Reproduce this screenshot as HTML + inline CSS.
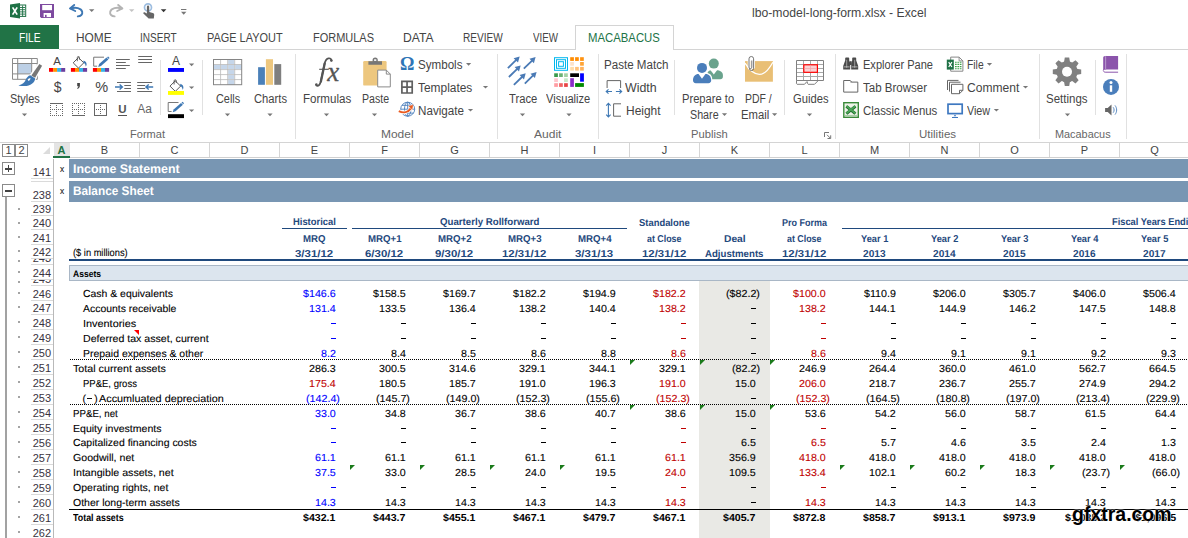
<!DOCTYPE html><html><head><meta charset="utf-8"><title>Excel</title><style>
*{box-sizing:border-box;margin:0;padding:0}
html,body{width:1188px;height:538px;overflow:hidden;background:#fff}
body{font-family:"Liberation Sans",sans-serif;position:relative;color:#444}
.abs{position:absolute}
.t{position:absolute;white-space:nowrap;line-height:1}
.g{text-rendering:geometricPrecision}
.s{-webkit-text-stroke:.1px currentColor}
.tab{position:absolute;top:31px;font-size:11.2px;color:#444;white-space:nowrap;line-height:14px}
.rl{position:absolute;font-size:12px;color:#444;white-space:nowrap;line-height:14px;text-align:center}
.gl{position:absolute;font-size:11px;color:#666;white-space:nowrap;line-height:12px;top:128px;letter-spacing:.2px}
.sep{position:absolute;width:1px;background:#e1e1e1}
.dd{position:absolute;width:0;height:0;border-left:2.8px solid transparent;border-right:2.8px solid transparent;border-top:2.9px solid #6e6e6e}
.ch{position:absolute;top:143px;height:14px;font-size:11px;line-height:14px;color:#444;text-align:center;border-right:1px solid #d6d6d6}
.rh{position:absolute;left:30px;width:21px;font-size:11px;line-height:11px;color:#3a3340;text-align:right;white-space:nowrap}
.rsep{position:absolute;left:31px;width:22px;height:1px;background:#dadada}
.dot{position:absolute;left:18px;width:2px;height:2px;background:#a4a4a4}
.c{position:absolute;font-size:10.4px;line-height:12px;white-space:nowrap;color:#000}
.n{position:absolute;font-size:10.4px;line-height:12px;white-space:nowrap;text-align:right;color:#000}
.hb{position:absolute;font-size:9.6px;font-weight:bold;line-height:12px;white-space:nowrap;text-align:center;color:#1f497d}
.b{font-weight:bold}
.bl{color:#0000ff}.rd{color:#c00000}
.gt{position:absolute;width:0;height:0;border-top:5px solid #1a7a1a;border-right:5px solid transparent}
</style></head><body>
<div class="t" style="left:752.0px;top:6.34px;font-size:12px;line-height:14px;color:#444;transform:scaleX(1.0175);transform-origin:0 0">lbo-model-long-form.xlsx - Excel</div>
<div class="abs" style="left:0;top:25px;width:59px;height:24px;background:#217346"></div>
<div class="t" style="left:18.57px;top:30.64px;font-size:12.3px;line-height:14px;color:#fff;transform:scaleX(0.8318);transform-origin:0 0">FILE</div>
<div class="t" style="left:75.63px;top:30.64px;font-size:12.3px;line-height:14px;color:#444;transform:scaleX(0.9667);transform-origin:0 0">HOME</div>
<div class="t" style="left:139.78px;top:30.64px;font-size:12.3px;line-height:14px;color:#444;transform:scaleX(0.8161);transform-origin:0 0">INSERT</div>
<div class="t" style="left:206.81px;top:30.64px;font-size:12.3px;line-height:14px;color:#444;transform:scaleX(0.8893);transform-origin:0 0">PAGE LAYOUT</div>
<div class="t" style="left:312.91px;top:30.64px;font-size:12.3px;line-height:14px;color:#444;transform:scaleX(0.8924);transform-origin:0 0">FORMULAS</div>
<div class="t" style="left:402.62px;top:30.64px;font-size:12.3px;line-height:14px;color:#444;transform:scaleX(0.9848);transform-origin:0 0">DATA</div>
<div class="t" style="left:462.68px;top:30.64px;font-size:12.3px;line-height:14px;color:#444;transform:scaleX(0.8225);transform-origin:0 0">REVIEW</div>
<div class="t" style="left:533.2px;top:30.64px;font-size:12.3px;line-height:14px;color:#444;transform:scaleX(0.7951);transform-origin:0 0">VIEW</div>
<div class="abs" style="left:59px;top:49px;width:1129px;height:1px;background:#d4d4d4"></div>
<div class="abs" style="left:575px;top:25px;width:99px;height:25px;background:#fff;border:1px solid #d4d4d4;border-bottom:none"></div>
<div class="t" style="left:587.88px;top:30.64px;font-size:12.3px;line-height:14px;color:#217346;transform:scaleX(0.9219);transform-origin:0 0">MACABACUS</div>
<div class="abs" style="left:0;top:142px;width:1188px;height:1px;background:#d4d4d4"></div>
<div class="sep" style="left:295px;top:54px;height:85px"></div>
<div class="sep" style="left:497px;top:54px;height:85px"></div>
<div class="sep" style="left:598px;top:54px;height:85px"></div>
<div class="sep" style="left:835px;top:54px;height:85px"></div>
<div class="sep" style="left:1039px;top:54px;height:85px"></div>
<div class="sep" style="left:1126px;top:54px;height:85px"></div>
<div class="sep" style="left:160px;top:60px;height:55px"></div>
<div class="sep" style="left:202px;top:60px;height:55px"></div>
<div class="sep" style="left:674px;top:60px;height:55px"></div>
<div class="sep" style="left:784px;top:60px;height:55px"></div>
<div class="sep" style="left:1095px;top:60px;height:55px"></div>
<div class="t" style="left:129.6px;top:126.79px;font-size:11px;line-height:14px;color:#666;transform:scaleX(1.0034);transform-origin:0 0">Format</div>
<div class="t" style="left:380.7px;top:126.79px;font-size:11px;line-height:14px;color:#666;transform:scaleX(1.0875);transform-origin:0 0">Model</div>
<div class="t" style="left:534.2px;top:126.79px;font-size:11px;line-height:14px;color:#666;transform:scaleX(1.0953);transform-origin:0 0">Audit</div>
<div class="t" style="left:690.7px;top:126.79px;font-size:11px;line-height:14px;color:#666;transform:scaleX(1.0178);transform-origin:0 0">Publish</div>
<div class="t" style="left:918.8px;top:126.79px;font-size:11px;line-height:14px;color:#666;transform:scaleX(1.0459);transform-origin:0 0">Utilities</div>
<div class="t" style="left:1054.5px;top:126.79px;font-size:11px;line-height:14px;color:#666;transform:scaleX(0.9885);transform-origin:0 0">Macabacus</div>
<div class="t" style="left:10.2px;top:92.04px;font-size:12px;line-height:14px;color:#444;transform:scaleX(0.9089);transform-origin:0 0">Styles</div>
<div class="t" style="left:215.7px;top:92.04px;font-size:12px;line-height:14px;color:#444;transform:scaleX(0.9073);transform-origin:0 0">Cells</div>
<div class="t" style="left:253.8px;top:92.04px;font-size:12px;line-height:14px;color:#444;transform:scaleX(0.9337);transform-origin:0 0">Charts</div>
<div class="t" style="left:302.6px;top:92.04px;font-size:12px;line-height:14px;color:#444;transform:scaleX(0.9638);transform-origin:0 0">Formulas</div>
<div class="t" style="left:361.8px;top:92.04px;font-size:12px;line-height:14px;color:#444;transform:scaleX(0.8835);transform-origin:0 0">Paste</div>
<div class="t" style="left:508.5px;top:92.04px;font-size:12px;line-height:14px;color:#444;transform:scaleX(0.936);transform-origin:0 0">Trace</div>
<div class="t" style="left:546.2px;top:92.04px;font-size:12px;line-height:14px;color:#444;transform:scaleX(0.9266);transform-origin:0 0">Visualize</div>
<div class="t" style="left:792.5px;top:92.04px;font-size:12px;line-height:14px;color:#444;transform:scaleX(0.9337);transform-origin:0 0">Guides</div>
<div class="t" style="left:1046.3px;top:92.04px;font-size:12px;line-height:14px;color:#444;transform:scaleX(0.9594);transform-origin:0 0">Settings</div>
<div class="t" style="left:681.8px;top:92.04px;font-size:12px;line-height:14px;color:#444;transform:scaleX(0.9297);transform-origin:0 0">Prepare to</div>
<div class="t" style="left:690.4px;top:107.64px;font-size:12px;line-height:14px;color:#444;transform:scaleX(0.8934);transform-origin:0 0">Share</div>
<div class="t" style="left:744.7px;top:92.04px;font-size:12px;line-height:14px;color:#444;transform:scaleX(0.8713);transform-origin:0 0">PDF /</div>
<div class="t" style="left:740.8px;top:107.64px;font-size:12px;line-height:14px;color:#444;transform:scaleX(0.9407);transform-origin:0 0">Email</div>
<div class="t" style="left:418.2px;top:57.74px;font-size:12px;line-height:14px;color:#444;transform:scaleX(0.9671);transform-origin:0 0">Symbols</div>
<div class="t" style="left:418.4px;top:81.14px;font-size:12px;line-height:14px;color:#444;transform:scaleX(0.9928);transform-origin:0 0">Templates</div>
<div class="t" style="left:418.4px;top:104.14px;font-size:12px;line-height:14px;color:#444;transform:scaleX(0.9709);transform-origin:0 0">Navigate</div>
<div class="t" style="left:603.5px;top:57.74px;font-size:12px;line-height:14px;color:#444;transform:scaleX(0.9663);transform-origin:0 0">Paste Match</div>
<div class="t" style="left:625.2px;top:81.14px;font-size:12px;line-height:14px;color:#444;transform:scaleX(1.0333);transform-origin:0 0">Width</div>
<div class="t" style="left:625.6px;top:104.14px;font-size:12px;line-height:14px;color:#444;transform:scaleX(0.9957);transform-origin:0 0">Height</div>
<div class="t" style="left:862.7px;top:57.74px;font-size:12px;line-height:14px;color:#444;transform:scaleX(0.9205);transform-origin:0 0">Explorer Pane</div>
<div class="t" style="left:862.7px;top:81.14px;font-size:12px;line-height:14px;color:#444;transform:scaleX(0.9611);transform-origin:0 0">Tab Browser</div>
<div class="t" style="left:862.7px;top:104.14px;font-size:12px;line-height:14px;color:#444;transform:scaleX(0.9523);transform-origin:0 0">Classic Menus</div>
<div class="t" style="left:966.7px;top:57.74px;font-size:12px;line-height:14px;color:#444;transform:scaleX(0.8595);transform-origin:0 0">File</div>
<div class="t" style="left:966.7px;top:81.14px;font-size:12px;line-height:14px;color:#444;transform:scaleX(1.0061);transform-origin:0 0">Comment</div>
<div class="t" style="left:966.7px;top:104.14px;font-size:12px;line-height:14px;color:#444;transform:scaleX(0.8956);transform-origin:0 0">View</div>
<div class="abs" style="left:2px;top:144px;width:13px;height:13px;border:1px solid #8a8a8a;font-size:11px;line-height:11px;text-align:center;color:#444">1</div>
<div class="abs" style="left:15px;top:144px;width:13px;height:13px;border:1px solid #8a8a8a;font-size:11px;line-height:11px;text-align:center;color:#444">2</div>
<div class="abs" style="left:43px;top:147px;width:0;height:0;border-bottom:7px solid #dcdcdc;border-left:7px solid transparent"></div>
<div class="abs" style="left:54px;top:143px;width:16px;height:13px;background:#e4e4e4"></div>
<div class="abs" style="left:53px;top:156px;width:17px;height:2px;background:#217346"></div>
<div class="ch" style="left:54px;width:15px;color:#217346;font-weight:bold;border:none">A</div>
<div class="ch" style="left:70px;width:70px">B</div>
<div class="ch" style="left:140px;width:70px">C</div>
<div class="ch" style="left:210px;width:70px">D</div>
<div class="ch" style="left:280px;width:70px">E</div>
<div class="ch" style="left:350px;width:70px">F</div>
<div class="ch" style="left:420px;width:70px">G</div>
<div class="ch" style="left:490px;width:70px">H</div>
<div class="ch" style="left:560px;width:70px">I</div>
<div class="ch" style="left:630px;width:70px">J</div>
<div class="ch" style="left:700px;width:70px">K</div>
<div class="ch" style="left:770px;width:70px">L</div>
<div class="ch" style="left:840px;width:70px">M</div>
<div class="ch" style="left:910px;width:70px">N</div>
<div class="ch" style="left:980px;width:70px">O</div>
<div class="ch" style="left:1050px;width:70px">P</div>
<div class="ch" style="left:1120px;width:70px">Q</div>
<div class="abs" style="left:70px;top:157px;width:1118px;height:1px;background:#d0d0d0"></div>
<div class="abs" style="left:53px;top:159px;width:1px;height:379px;background:#b9b9b9"></div>
<div class="abs" style="left:2px;top:162px;width:13px;height:13px;border:1px solid #8a8a8a;background:#fff"></div>
<div class="abs" style="left:5px;top:168px;width:7px;height:1.6px;background:#444"></div><div class="abs" style="left:7.7px;top:165px;width:1.6px;height:7px;background:#444"></div>
<div class="abs" style="left:2px;top:184px;width:13px;height:13px;border:1px solid #8a8a8a;background:#fff"></div>
<div class="abs" style="left:5px;top:190px;width:7px;height:1.6px;background:#444"></div>
<div class="abs" style="left:5px;top:197px;width:2px;height:341px;background:#a2a2a2"></div>
<div class="rh" style="top:166.5px">141</div>
<div class="rsep" style="top:177.5px"></div>
<div class="rh" style="top:190.0px">238</div>
<div class="rsep" style="top:201.0px"></div>
<div class="rh" style="top:204.1px">239</div>
<div class="rsep" style="top:215.1px"></div>
<div class="dot" style="top:208px"></div>
<div class="rh" style="top:218.3px">240</div>
<div class="rsep" style="top:229.3px"></div>
<div class="dot" style="top:222px"></div>
<div class="rh" style="top:232.7px">241</div>
<div class="rsep" style="top:243.7px"></div>
<div class="dot" style="top:236px"></div>
<div class="rh" style="top:247.0px">242</div>
<div class="rsep" style="top:258.0px"></div>
<div class="dot" style="top:250px"></div>
<div class="abs" style="left:30px;top:258.5px;width:23px;height:5.0px;overflow:hidden"><div class="rh" style="left:0;top:-6px">243</div></div>
<div class="rsep" style="top:264.0px"></div>
<div class="dot" style="top:260px"></div>
<div class="rh" style="top:268.0px">244</div>
<div class="rsep" style="top:279.0px"></div>
<div class="dot" style="top:271px"></div>
<div class="abs" style="left:30px;top:279.5px;width:23px;height:4.5px;overflow:hidden"><div class="rh" style="left:0;top:-6px">245</div></div>
<div class="rsep" style="top:284.5px"></div>
<div class="dot" style="top:281px"></div>
<div class="rh" style="top:288.5px">246</div>
<div class="rsep" style="top:299.5px"></div>
<div class="dot" style="top:292px"></div>
<div class="rh" style="top:303.45px">247</div>
<div class="rsep" style="top:314.45px"></div>
<div class="dot" style="top:306px"></div>
<div class="rh" style="top:318.4px">248</div>
<div class="rsep" style="top:329.4px"></div>
<div class="dot" style="top:321px"></div>
<div class="rh" style="top:333.34999999999997px">249</div>
<div class="rsep" style="top:344.34999999999997px"></div>
<div class="dot" style="top:336px"></div>
<div class="rh" style="top:348.29999999999995px">250</div>
<div class="rsep" style="top:359.29999999999995px"></div>
<div class="dot" style="top:351px"></div>
<div class="rh" style="top:363.24999999999994px">251</div>
<div class="rsep" style="top:374.24999999999994px"></div>
<div class="dot" style="top:366px"></div>
<div class="rh" style="top:378.19999999999993px">252</div>
<div class="rsep" style="top:389.19999999999993px"></div>
<div class="dot" style="top:381px"></div>
<div class="rh" style="top:393.1499999999999px">253</div>
<div class="rsep" style="top:404.1499999999999px"></div>
<div class="dot" style="top:396px"></div>
<div class="rh" style="top:408.0999999999999px">254</div>
<div class="rsep" style="top:419.0999999999999px"></div>
<div class="dot" style="top:411px"></div>
<div class="rh" style="top:423.0499999999999px">255</div>
<div class="rsep" style="top:434.0499999999999px"></div>
<div class="dot" style="top:426px"></div>
<div class="rh" style="top:437.9999999999999px">256</div>
<div class="rsep" style="top:448.9999999999999px"></div>
<div class="dot" style="top:441px"></div>
<div class="rh" style="top:452.9499999999999px">257</div>
<div class="rsep" style="top:463.9499999999999px"></div>
<div class="dot" style="top:456px"></div>
<div class="rh" style="top:467.89999999999986px">258</div>
<div class="rsep" style="top:478.89999999999986px"></div>
<div class="dot" style="top:471px"></div>
<div class="rh" style="top:482.84999999999985px">259</div>
<div class="rsep" style="top:493.84999999999985px"></div>
<div class="dot" style="top:486px"></div>
<div class="rh" style="top:497.79999999999984px">260</div>
<div class="rsep" style="top:508.79999999999984px"></div>
<div class="dot" style="top:501px"></div>
<div class="rh" style="top:512.7499999999998px">261</div>
<div class="rsep" style="top:523.7499999999998px"></div>
<div class="dot" style="top:516px"></div>
<div class="rh" style="top:527.6999999999998px">262</div>
<div class="rsep" style="top:538.6999999999998px"></div>
<div class="dot" style="top:531px"></div>
<div class="rsep" style="top:180.5px"></div>
<div class="abs" style="left:69px;top:159.4px;width:1119px;height:18.2px;background:#7896b3"></div>
<div class="abs" style="left:69px;top:181.2px;width:1119px;height:20.4px;background:#7896b3"></div>
<div class="t g" style="left:73.20px;top:163.20px;font-size:12.5px;line-height:12px;font-weight:bold;color:#fff;transform:scaleX(0.9908);transform-origin:0 0;">Income Statement</div>
<div class="t g" style="left:73.20px;top:185.20px;font-size:12.5px;line-height:12px;font-weight:bold;color:#fff;transform:scaleX(0.9445);transform-origin:0 0;">Balance Sheet</div>
<div class="t g s" style="left:60.00px;top:163.00px;font-size:9.2px;line-height:12px;color:#111;transform:scaleX(0.9000);transform-origin:0 0;">x</div>
<div class="t g s" style="left:60.00px;top:185.00px;font-size:9.2px;line-height:12px;color:#111;transform:scaleX(0.9000);transform-origin:0 0;">x</div>
<div class="abs" style="left:699px;top:281px;width:71px;height:257px;background:#e9e9e5"></div>
<div class="abs" style="left:69px;top:265px;width:1119px;height:16px;background:#dce5ee;border-top:1px solid #a9b7c6;border-bottom:1px solid #a9b7c6;border-left:1px solid #a9b7c6"></div>
<div class="t g" style="left:72.80px;top:268.20px;font-size:9.4px;line-height:12px;font-weight:bold;color:#000;transform:scaleX(0.9105);transform-origin:0 0;">Assets</div>
<div class="abs" style="left:69px;top:259px;width:1119px;height:2px;background:#1f497d"></div>
<div class="t g s" style="left:73.00px;top:247.80px;font-size:10.2px;line-height:12px;color:#000;transform:scaleX(0.9109);transform-origin:0 0;">($ in millions)</div>
<div class="t g" style="left:293.00px;top:216.70px;font-size:10.0px;line-height:12px;font-weight:bold;color:#1f497d;transform:scaleX(0.9390);transform-origin:0 0;">Historical</div>
<div class="t g" style="left:439.90px;top:216.70px;font-size:10.0px;line-height:12px;font-weight:bold;color:#1f497d;transform:scaleX(0.9680);transform-origin:0 0;">Quarterly Rollforward</div>
<div class="t g" style="left:638.95px;top:218.40px;font-size:10.0px;line-height:12px;font-weight:bold;color:#1f497d;transform:scaleX(0.9405);transform-origin:0 0;">Standalone</div>
<div class="t g" style="left:781.80px;top:218.40px;font-size:10.0px;line-height:12px;font-weight:bold;color:#1f497d;transform:scaleX(0.8999);transform-origin:0 0;">Pro Forma</div>
<div class="t g" style="left:1112.40px;top:216.70px;font-size:10.0px;line-height:12px;font-weight:bold;color:#1f497d;transform:scaleX(0.9300);transform-origin:0 0;">Fiscal Years Ending</div>
<div class="abs" style="left:282px;top:228.3px;width:65px;height:1.2px;background:#1f497d"></div>
<div class="abs" style="left:352px;top:228.3px;width:275px;height:1.2px;background:#1f497d"></div>
<div class="abs" style="left:842px;top:228.3px;width:346px;height:1.2px;background:#1f497d"></div>
<div class="t g" style="left:303.15px;top:234.10px;font-size:10.0px;line-height:12px;font-weight:bold;color:#1f497d;transform:scaleX(0.9638);transform-origin:0 0;">MRQ</div>
<div class="t g" style="left:295.15px;top:249.10px;font-size:10.0px;line-height:12px;font-weight:bold;color:#1f497d;transform:scaleX(1.1449);transform-origin:0 0;">3/31/12</div>
<div class="t g" style="left:367.50px;top:234.10px;font-size:10.0px;line-height:12px;font-weight:bold;color:#1f497d;transform:scaleX(0.9667);transform-origin:0 0;">MRQ+1</div>
<div class="t g" style="left:365.15px;top:249.10px;font-size:10.0px;line-height:12px;font-weight:bold;color:#1f497d;transform:scaleX(1.1449);transform-origin:0 0;">6/30/12</div>
<div class="t g" style="left:437.50px;top:234.10px;font-size:10.0px;line-height:12px;font-weight:bold;color:#1f497d;transform:scaleX(0.9667);transform-origin:0 0;">MRQ+2</div>
<div class="t g" style="left:435.15px;top:249.10px;font-size:10.0px;line-height:12px;font-weight:bold;color:#1f497d;transform:scaleX(1.1449);transform-origin:0 0;">9/30/12</div>
<div class="t g" style="left:507.50px;top:234.10px;font-size:10.0px;line-height:12px;font-weight:bold;color:#1f497d;transform:scaleX(0.9667);transform-origin:0 0;">MRQ+3</div>
<div class="t g" style="left:502.10px;top:249.10px;font-size:10.0px;line-height:12px;font-weight:bold;color:#1f497d;transform:scaleX(1.1381);transform-origin:0 0;">12/31/12</div>
<div class="t g" style="left:577.50px;top:234.10px;font-size:10.0px;line-height:12px;font-weight:bold;color:#1f497d;transform:scaleX(0.9667);transform-origin:0 0;">MRQ+4</div>
<div class="t g" style="left:575.15px;top:249.10px;font-size:10.0px;line-height:12px;font-weight:bold;color:#1f497d;transform:scaleX(1.1449);transform-origin:0 0;">3/31/13</div>
<div class="t g" style="left:647.10px;top:234.10px;font-size:10.0px;line-height:12px;font-weight:bold;color:#1f497d;transform:scaleX(0.8846);transform-origin:0 0;">at Close</div>
<div class="t g" style="left:642.10px;top:249.10px;font-size:10.0px;line-height:12px;font-weight:bold;color:#1f497d;transform:scaleX(1.1381);transform-origin:0 0;">12/31/12</div>
<div class="t g" style="left:723.55px;top:234.10px;font-size:10.0px;line-height:12px;font-weight:bold;color:#1f497d;transform:scaleX(1.0260);transform-origin:0 0;">Deal</div>
<div class="t g" style="left:705.05px;top:249.10px;font-size:10.0px;line-height:12px;font-weight:bold;color:#1f497d;transform:scaleX(0.9656);transform-origin:0 0;">Adjustments</div>
<div class="t g" style="left:787.10px;top:234.10px;font-size:10.0px;line-height:12px;font-weight:bold;color:#1f497d;transform:scaleX(0.8846);transform-origin:0 0;">at Close</div>
<div class="t g" style="left:782.10px;top:249.10px;font-size:10.0px;line-height:12px;font-weight:bold;color:#1f497d;transform:scaleX(1.1381);transform-origin:0 0;">12/31/12</div>
<div class="t g" style="left:860.65px;top:234.10px;font-size:10.0px;line-height:12px;font-weight:bold;color:#1f497d;transform:scaleX(0.9261);transform-origin:0 0;">Year 1</div>
<div class="t g" style="left:863.00px;top:249.10px;font-size:10.0px;line-height:12px;font-weight:bold;color:#1f497d;transform:scaleX(1.0139);transform-origin:0 0;">2013</div>
<div class="t g" style="left:930.65px;top:234.10px;font-size:10.0px;line-height:12px;font-weight:bold;color:#1f497d;transform:scaleX(0.9261);transform-origin:0 0;">Year 2</div>
<div class="t g" style="left:933.00px;top:249.10px;font-size:10.0px;line-height:12px;font-weight:bold;color:#1f497d;transform:scaleX(1.0139);transform-origin:0 0;">2014</div>
<div class="t g" style="left:1000.65px;top:234.10px;font-size:10.0px;line-height:12px;font-weight:bold;color:#1f497d;transform:scaleX(0.9261);transform-origin:0 0;">Year 3</div>
<div class="t g" style="left:1003.00px;top:249.10px;font-size:10.0px;line-height:12px;font-weight:bold;color:#1f497d;transform:scaleX(1.0139);transform-origin:0 0;">2015</div>
<div class="t g" style="left:1070.65px;top:234.10px;font-size:10.0px;line-height:12px;font-weight:bold;color:#1f497d;transform:scaleX(0.9261);transform-origin:0 0;">Year 4</div>
<div class="t g" style="left:1073.00px;top:249.10px;font-size:10.0px;line-height:12px;font-weight:bold;color:#1f497d;transform:scaleX(1.0139);transform-origin:0 0;">2016</div>
<div class="t g" style="left:1140.65px;top:234.10px;font-size:10.0px;line-height:12px;font-weight:bold;color:#1f497d;transform:scaleX(0.9261);transform-origin:0 0;">Year 5</div>
<div class="t g" style="left:1143.00px;top:249.10px;font-size:10.0px;line-height:12px;font-weight:bold;color:#1f497d;transform:scaleX(1.0139);transform-origin:0 0;">2017</div>
<div class="t g s" style="left:82.60px;top:288.95px;font-size:10.2px;line-height:12px;color:#000;transform:scaleX(1.0241);transform-origin:0 0;">Cash &amp; equivalents</div>
<div class="t g s" style="left:303.13px;top:288.95px;font-size:10.2px;line-height:12px;color:#0000ff;transform:scaleX(1.0502);transform-origin:0 0;">$146.6</div>
<div class="t g s" style="left:373.13px;top:288.95px;font-size:10.2px;line-height:12px;color:#000;transform:scaleX(1.0502);transform-origin:0 0;">$158.5</div>
<div class="t g s" style="left:443.13px;top:288.95px;font-size:10.2px;line-height:12px;color:#000;transform:scaleX(1.0502);transform-origin:0 0;">$169.7</div>
<div class="t g s" style="left:513.13px;top:288.95px;font-size:10.2px;line-height:12px;color:#000;transform:scaleX(1.0502);transform-origin:0 0;">$182.2</div>
<div class="t g s" style="left:583.13px;top:288.95px;font-size:10.2px;line-height:12px;color:#000;transform:scaleX(1.0502);transform-origin:0 0;">$194.9</div>
<div class="t g s" style="left:653.13px;top:288.95px;font-size:10.2px;line-height:12px;color:#c00000;transform:scaleX(1.0502);transform-origin:0 0;">$182.2</div>
<div class="t g s" style="left:726.01px;top:288.95px;font-size:10.2px;line-height:12px;color:#000;transform:scaleX(1.0502);transform-origin:0 0;">($82.2)</div>
<div class="t g s" style="left:793.13px;top:288.95px;font-size:10.2px;line-height:12px;color:#c00000;transform:scaleX(1.0502);transform-origin:0 0;">$100.0</div>
<div class="t g s" style="left:863.92px;top:288.95px;font-size:10.2px;line-height:12px;color:#000;transform:scaleX(1.0502);transform-origin:0 0;">$110.9</div>
<div class="t g s" style="left:933.13px;top:288.95px;font-size:10.2px;line-height:12px;color:#000;transform:scaleX(1.0502);transform-origin:0 0;">$206.0</div>
<div class="t g s" style="left:1003.13px;top:288.95px;font-size:10.2px;line-height:12px;color:#000;transform:scaleX(1.0502);transform-origin:0 0;">$305.7</div>
<div class="t g s" style="left:1073.13px;top:288.95px;font-size:10.2px;line-height:12px;color:#000;transform:scaleX(1.0502);transform-origin:0 0;">$406.0</div>
<div class="t g s" style="left:1143.13px;top:288.95px;font-size:10.2px;line-height:12px;color:#000;transform:scaleX(1.0502);transform-origin:0 0;">$506.4</div>
<div class="t g s" style="left:82.60px;top:303.90px;font-size:10.2px;line-height:12px;color:#000;transform:scaleX(1.0240);transform-origin:0 0;">Accounts receivable</div>
<div class="t g s" style="left:309.08px;top:303.90px;font-size:10.2px;line-height:12px;color:#0000ff;transform:scaleX(1.0502);transform-origin:0 0;">131.4</div>
<div class="t g s" style="left:379.08px;top:303.90px;font-size:10.2px;line-height:12px;color:#000;transform:scaleX(1.0502);transform-origin:0 0;">133.5</div>
<div class="t g s" style="left:449.08px;top:303.90px;font-size:10.2px;line-height:12px;color:#000;transform:scaleX(1.0502);transform-origin:0 0;">136.4</div>
<div class="t g s" style="left:519.08px;top:303.90px;font-size:10.2px;line-height:12px;color:#000;transform:scaleX(1.0502);transform-origin:0 0;">138.2</div>
<div class="t g s" style="left:589.08px;top:303.90px;font-size:10.2px;line-height:12px;color:#000;transform:scaleX(1.0502);transform-origin:0 0;">140.4</div>
<div class="t g s" style="left:659.08px;top:303.90px;font-size:10.2px;line-height:12px;color:#c00000;transform:scaleX(1.0502);transform-origin:0 0;">138.2</div>
<div class="abs" style="left:751.2px;top:308px;width:5.2px;height:1px;background:#000"></div>
<div class="t g s" style="left:799.08px;top:303.90px;font-size:10.2px;line-height:12px;color:#c00000;transform:scaleX(1.0502);transform-origin:0 0;">138.2</div>
<div class="t g s" style="left:869.08px;top:303.90px;font-size:10.2px;line-height:12px;color:#000;transform:scaleX(1.0502);transform-origin:0 0;">144.1</div>
<div class="t g s" style="left:939.08px;top:303.90px;font-size:10.2px;line-height:12px;color:#000;transform:scaleX(1.0502);transform-origin:0 0;">144.9</div>
<div class="t g s" style="left:1009.08px;top:303.90px;font-size:10.2px;line-height:12px;color:#000;transform:scaleX(1.0502);transform-origin:0 0;">146.2</div>
<div class="t g s" style="left:1079.08px;top:303.90px;font-size:10.2px;line-height:12px;color:#000;transform:scaleX(1.0502);transform-origin:0 0;">147.5</div>
<div class="t g s" style="left:1149.08px;top:303.90px;font-size:10.2px;line-height:12px;color:#000;transform:scaleX(1.0502);transform-origin:0 0;">148.8</div>
<div class="t g s" style="left:82.60px;top:318.85px;font-size:10.2px;line-height:12px;color:#000;transform:scaleX(1.0676);transform-origin:0 0;">Inventories</div>
<div class="abs" style="left:331.2px;top:323px;width:5.2px;height:1px;background:#0000ff"></div>
<div class="abs" style="left:401.2px;top:323px;width:5.2px;height:1px;background:#000"></div>
<div class="abs" style="left:471.2px;top:323px;width:5.2px;height:1px;background:#000"></div>
<div class="abs" style="left:541.2px;top:323px;width:5.2px;height:1px;background:#000"></div>
<div class="abs" style="left:611.2px;top:323px;width:5.2px;height:1px;background:#000"></div>
<div class="abs" style="left:681.2px;top:323px;width:5.2px;height:1px;background:#c00000"></div>
<div class="abs" style="left:751.2px;top:323px;width:5.2px;height:1px;background:#000"></div>
<div class="abs" style="left:821.2px;top:323px;width:5.2px;height:1px;background:#c00000"></div>
<div class="abs" style="left:891.2px;top:323px;width:5.2px;height:1px;background:#000"></div>
<div class="abs" style="left:961.2px;top:323px;width:5.2px;height:1px;background:#000"></div>
<div class="abs" style="left:1031.2px;top:323px;width:5.2px;height:1px;background:#000"></div>
<div class="abs" style="left:1101.2px;top:323px;width:5.2px;height:1px;background:#000"></div>
<div class="abs" style="left:1171.2px;top:323px;width:5.2px;height:1px;background:#000"></div>
<div class="t g s" style="left:82.60px;top:333.80px;font-size:10.2px;line-height:12px;color:#000;transform:scaleX(1.0416);transform-origin:0 0;">Deferred tax asset, current</div>
<div class="abs" style="left:331.2px;top:338px;width:5.2px;height:1px;background:#0000ff"></div>
<div class="abs" style="left:401.2px;top:338px;width:5.2px;height:1px;background:#000"></div>
<div class="abs" style="left:471.2px;top:338px;width:5.2px;height:1px;background:#000"></div>
<div class="abs" style="left:541.2px;top:338px;width:5.2px;height:1px;background:#000"></div>
<div class="abs" style="left:611.2px;top:338px;width:5.2px;height:1px;background:#000"></div>
<div class="abs" style="left:681.2px;top:338px;width:5.2px;height:1px;background:#c00000"></div>
<div class="abs" style="left:751.2px;top:338px;width:5.2px;height:1px;background:#000"></div>
<div class="abs" style="left:821.2px;top:338px;width:5.2px;height:1px;background:#c00000"></div>
<div class="abs" style="left:891.2px;top:338px;width:5.2px;height:1px;background:#000"></div>
<div class="abs" style="left:961.2px;top:338px;width:5.2px;height:1px;background:#000"></div>
<div class="abs" style="left:1031.2px;top:338px;width:5.2px;height:1px;background:#000"></div>
<div class="abs" style="left:1101.2px;top:338px;width:5.2px;height:1px;background:#000"></div>
<div class="abs" style="left:1171.2px;top:338px;width:5.2px;height:1px;background:#000"></div>
<div class="t g s" style="left:82.60px;top:348.75px;font-size:10.2px;line-height:12px;color:#000;transform:scaleX(1.0251);transform-origin:0 0;">Prepaid expenses &amp; other</div>
<div class="t g s" style="left:320.98px;top:348.75px;font-size:10.2px;line-height:12px;color:#0000ff;transform:scaleX(1.0502);transform-origin:0 0;">8.2</div>
<div class="t g s" style="left:390.98px;top:348.75px;font-size:10.2px;line-height:12px;color:#000;transform:scaleX(1.0502);transform-origin:0 0;">8.4</div>
<div class="t g s" style="left:460.98px;top:348.75px;font-size:10.2px;line-height:12px;color:#000;transform:scaleX(1.0502);transform-origin:0 0;">8.5</div>
<div class="t g s" style="left:530.98px;top:348.75px;font-size:10.2px;line-height:12px;color:#000;transform:scaleX(1.0502);transform-origin:0 0;">8.6</div>
<div class="t g s" style="left:600.98px;top:348.75px;font-size:10.2px;line-height:12px;color:#000;transform:scaleX(1.0502);transform-origin:0 0;">8.8</div>
<div class="t g s" style="left:670.98px;top:348.75px;font-size:10.2px;line-height:12px;color:#c00000;transform:scaleX(1.0502);transform-origin:0 0;">8.6</div>
<div class="abs" style="left:751.2px;top:353px;width:5.2px;height:1px;background:#000"></div>
<div class="t g s" style="left:810.98px;top:348.75px;font-size:10.2px;line-height:12px;color:#c00000;transform:scaleX(1.0502);transform-origin:0 0;">8.6</div>
<div class="t g s" style="left:880.98px;top:348.75px;font-size:10.2px;line-height:12px;color:#000;transform:scaleX(1.0502);transform-origin:0 0;">9.4</div>
<div class="t g s" style="left:950.98px;top:348.75px;font-size:10.2px;line-height:12px;color:#000;transform:scaleX(1.0502);transform-origin:0 0;">9.1</div>
<div class="t g s" style="left:1020.98px;top:348.75px;font-size:10.2px;line-height:12px;color:#000;transform:scaleX(1.0502);transform-origin:0 0;">9.1</div>
<div class="t g s" style="left:1090.98px;top:348.75px;font-size:10.2px;line-height:12px;color:#000;transform:scaleX(1.0502);transform-origin:0 0;">9.2</div>
<div class="t g s" style="left:1160.98px;top:348.75px;font-size:10.2px;line-height:12px;color:#000;transform:scaleX(1.0502);transform-origin:0 0;">9.3</div>
<div class="t g s" style="left:72.90px;top:363.70px;font-size:10.2px;line-height:12px;color:#000;transform:scaleX(1.0517);transform-origin:0 0;">Total current assets</div>
<div class="t g s" style="left:309.08px;top:363.70px;font-size:10.2px;line-height:12px;color:#000;transform:scaleX(1.0502);transform-origin:0 0;">286.3</div>
<div class="t g s" style="left:379.08px;top:363.70px;font-size:10.2px;line-height:12px;color:#000;transform:scaleX(1.0502);transform-origin:0 0;">300.5</div>
<div class="t g s" style="left:449.08px;top:363.70px;font-size:10.2px;line-height:12px;color:#000;transform:scaleX(1.0502);transform-origin:0 0;">314.6</div>
<div class="t g s" style="left:519.08px;top:363.70px;font-size:10.2px;line-height:12px;color:#000;transform:scaleX(1.0502);transform-origin:0 0;">329.1</div>
<div class="t g s" style="left:589.08px;top:363.70px;font-size:10.2px;line-height:12px;color:#000;transform:scaleX(1.0502);transform-origin:0 0;">344.1</div>
<div class="t g s" style="left:659.08px;top:363.70px;font-size:10.2px;line-height:12px;color:#000;transform:scaleX(1.0502);transform-origin:0 0;">329.1</div>
<div class="t g s" style="left:731.96px;top:363.70px;font-size:10.2px;line-height:12px;color:#000;transform:scaleX(1.0502);transform-origin:0 0;">(82.2)</div>
<div class="t g s" style="left:799.08px;top:363.70px;font-size:10.2px;line-height:12px;color:#000;transform:scaleX(1.0502);transform-origin:0 0;">246.9</div>
<div class="t g s" style="left:869.08px;top:363.70px;font-size:10.2px;line-height:12px;color:#000;transform:scaleX(1.0502);transform-origin:0 0;">264.4</div>
<div class="t g s" style="left:939.08px;top:363.70px;font-size:10.2px;line-height:12px;color:#000;transform:scaleX(1.0502);transform-origin:0 0;">360.0</div>
<div class="t g s" style="left:1009.08px;top:363.70px;font-size:10.2px;line-height:12px;color:#000;transform:scaleX(1.0502);transform-origin:0 0;">461.0</div>
<div class="t g s" style="left:1079.08px;top:363.70px;font-size:10.2px;line-height:12px;color:#000;transform:scaleX(1.0502);transform-origin:0 0;">562.7</div>
<div class="t g s" style="left:1149.08px;top:363.70px;font-size:10.2px;line-height:12px;color:#000;transform:scaleX(1.0502);transform-origin:0 0;">664.5</div>
<div class="t g s" style="left:82.60px;top:378.65px;font-size:10.2px;line-height:12px;color:#000;transform:scaleX(0.9331);transform-origin:0 0;">PP&amp;E, gross</div>
<div class="t g s" style="left:309.08px;top:378.65px;font-size:10.2px;line-height:12px;color:#c00000;transform:scaleX(1.0502);transform-origin:0 0;">175.4</div>
<div class="t g s" style="left:379.08px;top:378.65px;font-size:10.2px;line-height:12px;color:#000;transform:scaleX(1.0502);transform-origin:0 0;">180.5</div>
<div class="t g s" style="left:449.08px;top:378.65px;font-size:10.2px;line-height:12px;color:#000;transform:scaleX(1.0502);transform-origin:0 0;">185.7</div>
<div class="t g s" style="left:519.08px;top:378.65px;font-size:10.2px;line-height:12px;color:#000;transform:scaleX(1.0502);transform-origin:0 0;">191.0</div>
<div class="t g s" style="left:589.08px;top:378.65px;font-size:10.2px;line-height:12px;color:#000;transform:scaleX(1.0502);transform-origin:0 0;">196.3</div>
<div class="t g s" style="left:659.08px;top:378.65px;font-size:10.2px;line-height:12px;color:#c00000;transform:scaleX(1.0502);transform-origin:0 0;">191.0</div>
<div class="t g s" style="left:735.03px;top:378.65px;font-size:10.2px;line-height:12px;color:#000;transform:scaleX(1.0502);transform-origin:0 0;">15.0</div>
<div class="t g s" style="left:799.08px;top:378.65px;font-size:10.2px;line-height:12px;color:#c00000;transform:scaleX(1.0502);transform-origin:0 0;">206.0</div>
<div class="t g s" style="left:869.08px;top:378.65px;font-size:10.2px;line-height:12px;color:#000;transform:scaleX(1.0502);transform-origin:0 0;">218.7</div>
<div class="t g s" style="left:939.08px;top:378.65px;font-size:10.2px;line-height:12px;color:#000;transform:scaleX(1.0502);transform-origin:0 0;">236.7</div>
<div class="t g s" style="left:1009.08px;top:378.65px;font-size:10.2px;line-height:12px;color:#000;transform:scaleX(1.0502);transform-origin:0 0;">255.7</div>
<div class="t g s" style="left:1079.08px;top:378.65px;font-size:10.2px;line-height:12px;color:#000;transform:scaleX(1.0502);transform-origin:0 0;">274.9</div>
<div class="t g s" style="left:1149.08px;top:378.65px;font-size:10.2px;line-height:12px;color:#000;transform:scaleX(1.0502);transform-origin:0 0;">294.2</div>
<div class="t g s" style="left:82.40px;top:393.60px;font-size:10.2px;line-height:12px;color:#000;transform:scaleX(1.0000);transform-origin:0 0;">(</div>
<div class="t g s" style="left:94.20px;top:393.60px;font-size:10.2px;line-height:12px;color:#000;transform:scaleX(1.0000);transform-origin:0 0;">)</div>
<div class="abs" style="left:86.6px;top:398px;width:5.4px;height:1px;background:#111"></div>
<div class="t g s" style="left:99.20px;top:393.60px;font-size:10.2px;line-height:12px;color:#000;transform:scaleX(1.0638);transform-origin:0 0;">Accumluated depreciation</div>
<div class="t g s" style="left:306.01px;top:393.60px;font-size:10.2px;line-height:12px;color:#0000ff;transform:scaleX(1.0502);transform-origin:0 0;">(142.4)</div>
<div class="t g s" style="left:376.01px;top:393.60px;font-size:10.2px;line-height:12px;color:#000;transform:scaleX(1.0502);transform-origin:0 0;">(145.7)</div>
<div class="t g s" style="left:446.01px;top:393.60px;font-size:10.2px;line-height:12px;color:#000;transform:scaleX(1.0502);transform-origin:0 0;">(149.0)</div>
<div class="t g s" style="left:516.01px;top:393.60px;font-size:10.2px;line-height:12px;color:#000;transform:scaleX(1.0502);transform-origin:0 0;">(152.3)</div>
<div class="t g s" style="left:586.01px;top:393.60px;font-size:10.2px;line-height:12px;color:#000;transform:scaleX(1.0502);transform-origin:0 0;">(155.6)</div>
<div class="t g s" style="left:656.01px;top:393.60px;font-size:10.2px;line-height:12px;color:#c00000;transform:scaleX(1.0502);transform-origin:0 0;">(152.3)</div>
<div class="abs" style="left:751.2px;top:398px;width:5.2px;height:1px;background:#000"></div>
<div class="t g s" style="left:796.01px;top:393.60px;font-size:10.2px;line-height:12px;color:#c00000;transform:scaleX(1.0502);transform-origin:0 0;">(152.3)</div>
<div class="t g s" style="left:866.01px;top:393.60px;font-size:10.2px;line-height:12px;color:#000;transform:scaleX(1.0502);transform-origin:0 0;">(164.5)</div>
<div class="t g s" style="left:936.01px;top:393.60px;font-size:10.2px;line-height:12px;color:#000;transform:scaleX(1.0502);transform-origin:0 0;">(180.8)</div>
<div class="t g s" style="left:1006.01px;top:393.60px;font-size:10.2px;line-height:12px;color:#000;transform:scaleX(1.0502);transform-origin:0 0;">(197.0)</div>
<div class="t g s" style="left:1076.01px;top:393.60px;font-size:10.2px;line-height:12px;color:#000;transform:scaleX(1.0502);transform-origin:0 0;">(213.4)</div>
<div class="t g s" style="left:1146.01px;top:393.60px;font-size:10.2px;line-height:12px;color:#000;transform:scaleX(1.0502);transform-origin:0 0;">(229.9)</div>
<div class="t g s" style="left:72.90px;top:408.55px;font-size:10.2px;line-height:12px;color:#000;transform:scaleX(0.9518);transform-origin:0 0;">PP&amp;E, net</div>
<div class="t g s" style="left:315.03px;top:408.55px;font-size:10.2px;line-height:12px;color:#0000ff;transform:scaleX(1.0502);transform-origin:0 0;">33.0</div>
<div class="t g s" style="left:385.03px;top:408.55px;font-size:10.2px;line-height:12px;color:#000;transform:scaleX(1.0502);transform-origin:0 0;">34.8</div>
<div class="t g s" style="left:455.03px;top:408.55px;font-size:10.2px;line-height:12px;color:#000;transform:scaleX(1.0502);transform-origin:0 0;">36.7</div>
<div class="t g s" style="left:525.03px;top:408.55px;font-size:10.2px;line-height:12px;color:#000;transform:scaleX(1.0502);transform-origin:0 0;">38.6</div>
<div class="t g s" style="left:595.03px;top:408.55px;font-size:10.2px;line-height:12px;color:#000;transform:scaleX(1.0502);transform-origin:0 0;">40.7</div>
<div class="t g s" style="left:665.03px;top:408.55px;font-size:10.2px;line-height:12px;color:#000;transform:scaleX(1.0502);transform-origin:0 0;">38.6</div>
<div class="t g s" style="left:735.03px;top:408.55px;font-size:10.2px;line-height:12px;color:#000;transform:scaleX(1.0502);transform-origin:0 0;">15.0</div>
<div class="t g s" style="left:805.03px;top:408.55px;font-size:10.2px;line-height:12px;color:#000;transform:scaleX(1.0502);transform-origin:0 0;">53.6</div>
<div class="t g s" style="left:875.03px;top:408.55px;font-size:10.2px;line-height:12px;color:#000;transform:scaleX(1.0502);transform-origin:0 0;">54.2</div>
<div class="t g s" style="left:945.03px;top:408.55px;font-size:10.2px;line-height:12px;color:#000;transform:scaleX(1.0502);transform-origin:0 0;">56.0</div>
<div class="t g s" style="left:1015.03px;top:408.55px;font-size:10.2px;line-height:12px;color:#000;transform:scaleX(1.0502);transform-origin:0 0;">58.7</div>
<div class="t g s" style="left:1085.03px;top:408.55px;font-size:10.2px;line-height:12px;color:#000;transform:scaleX(1.0502);transform-origin:0 0;">61.5</div>
<div class="t g s" style="left:1155.03px;top:408.55px;font-size:10.2px;line-height:12px;color:#000;transform:scaleX(1.0502);transform-origin:0 0;">64.4</div>
<div class="t g s" style="left:72.90px;top:423.50px;font-size:10.2px;line-height:12px;color:#000;transform:scaleX(1.0351);transform-origin:0 0;">Equity investments</div>
<div class="abs" style="left:331.2px;top:428px;width:5.2px;height:1px;background:#0000ff"></div>
<div class="abs" style="left:401.2px;top:428px;width:5.2px;height:1px;background:#000"></div>
<div class="abs" style="left:471.2px;top:428px;width:5.2px;height:1px;background:#000"></div>
<div class="abs" style="left:541.2px;top:428px;width:5.2px;height:1px;background:#000"></div>
<div class="abs" style="left:611.2px;top:428px;width:5.2px;height:1px;background:#000"></div>
<div class="abs" style="left:681.2px;top:428px;width:5.2px;height:1px;background:#c00000"></div>
<div class="abs" style="left:751.2px;top:428px;width:5.2px;height:1px;background:#000"></div>
<div class="abs" style="left:821.2px;top:428px;width:5.2px;height:1px;background:#c00000"></div>
<div class="abs" style="left:891.2px;top:428px;width:5.2px;height:1px;background:#000"></div>
<div class="abs" style="left:961.2px;top:428px;width:5.2px;height:1px;background:#000"></div>
<div class="abs" style="left:1031.2px;top:428px;width:5.2px;height:1px;background:#000"></div>
<div class="abs" style="left:1101.2px;top:428px;width:5.2px;height:1px;background:#000"></div>
<div class="abs" style="left:1171.2px;top:428px;width:5.2px;height:1px;background:#000"></div>
<div class="t g s" style="left:72.90px;top:438.45px;font-size:10.2px;line-height:12px;color:#000;transform:scaleX(1.0263);transform-origin:0 0;">Capitalized financing costs</div>
<div class="abs" style="left:331.2px;top:442px;width:5.2px;height:1px;background:#0000ff"></div>
<div class="abs" style="left:401.2px;top:442px;width:5.2px;height:1px;background:#000"></div>
<div class="abs" style="left:471.2px;top:442px;width:5.2px;height:1px;background:#000"></div>
<div class="abs" style="left:541.2px;top:442px;width:5.2px;height:1px;background:#000"></div>
<div class="abs" style="left:611.2px;top:442px;width:5.2px;height:1px;background:#000"></div>
<div class="abs" style="left:681.2px;top:442px;width:5.2px;height:1px;background:#c00000"></div>
<div class="t g s" style="left:740.98px;top:438.45px;font-size:10.2px;line-height:12px;color:#000;transform:scaleX(1.0502);transform-origin:0 0;">6.5</div>
<div class="t g s" style="left:810.98px;top:438.45px;font-size:10.2px;line-height:12px;color:#c00000;transform:scaleX(1.0502);transform-origin:0 0;">6.5</div>
<div class="t g s" style="left:880.98px;top:438.45px;font-size:10.2px;line-height:12px;color:#000;transform:scaleX(1.0502);transform-origin:0 0;">5.7</div>
<div class="t g s" style="left:950.98px;top:438.45px;font-size:10.2px;line-height:12px;color:#000;transform:scaleX(1.0502);transform-origin:0 0;">4.6</div>
<div class="t g s" style="left:1020.98px;top:438.45px;font-size:10.2px;line-height:12px;color:#000;transform:scaleX(1.0502);transform-origin:0 0;">3.5</div>
<div class="t g s" style="left:1090.98px;top:438.45px;font-size:10.2px;line-height:12px;color:#000;transform:scaleX(1.0502);transform-origin:0 0;">2.4</div>
<div class="t g s" style="left:1160.98px;top:438.45px;font-size:10.2px;line-height:12px;color:#000;transform:scaleX(1.0502);transform-origin:0 0;">1.3</div>
<div class="t g s" style="left:72.90px;top:453.40px;font-size:10.2px;line-height:12px;color:#000;transform:scaleX(1.0396);transform-origin:0 0;">Goodwill, net</div>
<div class="t g s" style="left:315.03px;top:453.40px;font-size:10.2px;line-height:12px;color:#0000ff;transform:scaleX(1.0502);transform-origin:0 0;">61.1</div>
<div class="t g s" style="left:385.03px;top:453.40px;font-size:10.2px;line-height:12px;color:#000;transform:scaleX(1.0502);transform-origin:0 0;">61.1</div>
<div class="t g s" style="left:455.03px;top:453.40px;font-size:10.2px;line-height:12px;color:#000;transform:scaleX(1.0502);transform-origin:0 0;">61.1</div>
<div class="t g s" style="left:525.03px;top:453.40px;font-size:10.2px;line-height:12px;color:#000;transform:scaleX(1.0502);transform-origin:0 0;">61.1</div>
<div class="t g s" style="left:595.03px;top:453.40px;font-size:10.2px;line-height:12px;color:#000;transform:scaleX(1.0502);transform-origin:0 0;">61.1</div>
<div class="t g s" style="left:665.03px;top:453.40px;font-size:10.2px;line-height:12px;color:#c00000;transform:scaleX(1.0502);transform-origin:0 0;">61.1</div>
<div class="t g s" style="left:729.08px;top:453.40px;font-size:10.2px;line-height:12px;color:#000;transform:scaleX(1.0502);transform-origin:0 0;">356.9</div>
<div class="t g s" style="left:799.08px;top:453.40px;font-size:10.2px;line-height:12px;color:#c00000;transform:scaleX(1.0502);transform-origin:0 0;">418.0</div>
<div class="t g s" style="left:869.08px;top:453.40px;font-size:10.2px;line-height:12px;color:#000;transform:scaleX(1.0502);transform-origin:0 0;">418.0</div>
<div class="t g s" style="left:939.08px;top:453.40px;font-size:10.2px;line-height:12px;color:#000;transform:scaleX(1.0502);transform-origin:0 0;">418.0</div>
<div class="t g s" style="left:1009.08px;top:453.40px;font-size:10.2px;line-height:12px;color:#000;transform:scaleX(1.0502);transform-origin:0 0;">418.0</div>
<div class="t g s" style="left:1079.08px;top:453.40px;font-size:10.2px;line-height:12px;color:#000;transform:scaleX(1.0502);transform-origin:0 0;">418.0</div>
<div class="t g s" style="left:1149.08px;top:453.40px;font-size:10.2px;line-height:12px;color:#000;transform:scaleX(1.0502);transform-origin:0 0;">418.0</div>
<div class="t g s" style="left:72.90px;top:468.35px;font-size:10.2px;line-height:12px;color:#000;transform:scaleX(1.0451);transform-origin:0 0;">Intangible assets, net</div>
<div class="t g s" style="left:315.03px;top:468.35px;font-size:10.2px;line-height:12px;color:#0000ff;transform:scaleX(1.0502);transform-origin:0 0;">37.5</div>
<div class="t g s" style="left:385.03px;top:468.35px;font-size:10.2px;line-height:12px;color:#000;transform:scaleX(1.0502);transform-origin:0 0;">33.0</div>
<div class="t g s" style="left:455.03px;top:468.35px;font-size:10.2px;line-height:12px;color:#000;transform:scaleX(1.0502);transform-origin:0 0;">28.5</div>
<div class="t g s" style="left:525.03px;top:468.35px;font-size:10.2px;line-height:12px;color:#000;transform:scaleX(1.0502);transform-origin:0 0;">24.0</div>
<div class="t g s" style="left:595.03px;top:468.35px;font-size:10.2px;line-height:12px;color:#000;transform:scaleX(1.0502);transform-origin:0 0;">19.5</div>
<div class="t g s" style="left:665.03px;top:468.35px;font-size:10.2px;line-height:12px;color:#c00000;transform:scaleX(1.0502);transform-origin:0 0;">24.0</div>
<div class="t g s" style="left:729.08px;top:468.35px;font-size:10.2px;line-height:12px;color:#000;transform:scaleX(1.0502);transform-origin:0 0;">109.5</div>
<div class="t g s" style="left:799.08px;top:468.35px;font-size:10.2px;line-height:12px;color:#c00000;transform:scaleX(1.0502);transform-origin:0 0;">133.4</div>
<div class="t g s" style="left:869.08px;top:468.35px;font-size:10.2px;line-height:12px;color:#000;transform:scaleX(1.0502);transform-origin:0 0;">102.1</div>
<div class="t g s" style="left:945.03px;top:468.35px;font-size:10.2px;line-height:12px;color:#000;transform:scaleX(1.0502);transform-origin:0 0;">60.2</div>
<div class="t g s" style="left:1015.03px;top:468.35px;font-size:10.2px;line-height:12px;color:#000;transform:scaleX(1.0502);transform-origin:0 0;">18.3</div>
<div class="t g s" style="left:1081.96px;top:468.35px;font-size:10.2px;line-height:12px;color:#000;transform:scaleX(1.0502);transform-origin:0 0;">(23.7)</div>
<div class="t g s" style="left:1151.96px;top:468.35px;font-size:10.2px;line-height:12px;color:#000;transform:scaleX(1.0502);transform-origin:0 0;">(66.0)</div>
<div class="t g s" style="left:72.90px;top:483.30px;font-size:10.2px;line-height:12px;color:#000;transform:scaleX(1.0327);transform-origin:0 0;">Operating rights, net</div>
<div class="abs" style="left:331.2px;top:487px;width:5.2px;height:1px;background:#0000ff"></div>
<div class="abs" style="left:401.2px;top:487px;width:5.2px;height:1px;background:#000"></div>
<div class="abs" style="left:471.2px;top:487px;width:5.2px;height:1px;background:#000"></div>
<div class="abs" style="left:541.2px;top:487px;width:5.2px;height:1px;background:#000"></div>
<div class="abs" style="left:611.2px;top:487px;width:5.2px;height:1px;background:#000"></div>
<div class="abs" style="left:681.2px;top:487px;width:5.2px;height:1px;background:#c00000"></div>
<div class="abs" style="left:751.2px;top:487px;width:5.2px;height:1px;background:#000"></div>
<div class="abs" style="left:821.2px;top:487px;width:5.2px;height:1px;background:#c00000"></div>
<div class="abs" style="left:891.2px;top:487px;width:5.2px;height:1px;background:#000"></div>
<div class="abs" style="left:961.2px;top:487px;width:5.2px;height:1px;background:#000"></div>
<div class="abs" style="left:1031.2px;top:487px;width:5.2px;height:1px;background:#000"></div>
<div class="abs" style="left:1101.2px;top:487px;width:5.2px;height:1px;background:#000"></div>
<div class="abs" style="left:1171.2px;top:487px;width:5.2px;height:1px;background:#000"></div>
<div class="t g s" style="left:72.90px;top:498.25px;font-size:10.2px;line-height:12px;color:#000;transform:scaleX(1.0298);transform-origin:0 0;">Other long-term assets</div>
<div class="t g s" style="left:315.03px;top:498.25px;font-size:10.2px;line-height:12px;color:#0000ff;transform:scaleX(1.0502);transform-origin:0 0;">14.3</div>
<div class="t g s" style="left:385.03px;top:498.25px;font-size:10.2px;line-height:12px;color:#000;transform:scaleX(1.0502);transform-origin:0 0;">14.3</div>
<div class="t g s" style="left:455.03px;top:498.25px;font-size:10.2px;line-height:12px;color:#000;transform:scaleX(1.0502);transform-origin:0 0;">14.3</div>
<div class="t g s" style="left:525.03px;top:498.25px;font-size:10.2px;line-height:12px;color:#000;transform:scaleX(1.0502);transform-origin:0 0;">14.3</div>
<div class="t g s" style="left:595.03px;top:498.25px;font-size:10.2px;line-height:12px;color:#000;transform:scaleX(1.0502);transform-origin:0 0;">14.3</div>
<div class="t g s" style="left:665.03px;top:498.25px;font-size:10.2px;line-height:12px;color:#c00000;transform:scaleX(1.0502);transform-origin:0 0;">14.3</div>
<div class="abs" style="left:751.2px;top:502px;width:5.2px;height:1px;background:#000"></div>
<div class="t g s" style="left:805.03px;top:498.25px;font-size:10.2px;line-height:12px;color:#c00000;transform:scaleX(1.0502);transform-origin:0 0;">14.3</div>
<div class="t g s" style="left:875.03px;top:498.25px;font-size:10.2px;line-height:12px;color:#000;transform:scaleX(1.0502);transform-origin:0 0;">14.3</div>
<div class="t g s" style="left:945.03px;top:498.25px;font-size:10.2px;line-height:12px;color:#000;transform:scaleX(1.0502);transform-origin:0 0;">14.3</div>
<div class="t g s" style="left:1015.03px;top:498.25px;font-size:10.2px;line-height:12px;color:#000;transform:scaleX(1.0502);transform-origin:0 0;">14.3</div>
<div class="t g s" style="left:1085.03px;top:498.25px;font-size:10.2px;line-height:12px;color:#000;transform:scaleX(1.0502);transform-origin:0 0;">14.3</div>
<div class="t g s" style="left:1155.03px;top:498.25px;font-size:10.2px;line-height:12px;color:#000;transform:scaleX(1.0502);transform-origin:0 0;">14.3</div>
<div class="t g" style="left:72.90px;top:513.20px;font-size:10.1px;line-height:12px;font-weight:bold;color:#000;transform:scaleX(0.8796);transform-origin:0 0;">Total assets</div>
<div class="t g" style="left:303.39px;top:513.20px;font-size:10.1px;line-height:12px;font-weight:bold;color:#000;transform:scaleX(1.0495);transform-origin:0 0;">$432.1</div>
<div class="t g" style="left:373.39px;top:513.20px;font-size:10.1px;line-height:12px;font-weight:bold;color:#000;transform:scaleX(1.0495);transform-origin:0 0;">$443.7</div>
<div class="t g" style="left:443.39px;top:513.20px;font-size:10.1px;line-height:12px;font-weight:bold;color:#000;transform:scaleX(1.0495);transform-origin:0 0;">$455.1</div>
<div class="t g" style="left:513.39px;top:513.20px;font-size:10.1px;line-height:12px;font-weight:bold;color:#000;transform:scaleX(1.0495);transform-origin:0 0;">$467.1</div>
<div class="t g" style="left:583.39px;top:513.20px;font-size:10.1px;line-height:12px;font-weight:bold;color:#000;transform:scaleX(1.0495);transform-origin:0 0;">$479.7</div>
<div class="t g" style="left:653.39px;top:513.20px;font-size:10.1px;line-height:12px;font-weight:bold;color:#000;transform:scaleX(1.0495);transform-origin:0 0;">$467.1</div>
<div class="t g" style="left:723.39px;top:513.20px;font-size:10.1px;line-height:12px;font-weight:bold;color:#000;transform:scaleX(1.0495);transform-origin:0 0;">$405.7</div>
<div class="t g" style="left:793.39px;top:513.20px;font-size:10.1px;line-height:12px;font-weight:bold;color:#000;transform:scaleX(1.0495);transform-origin:0 0;">$872.8</div>
<div class="t g" style="left:863.39px;top:513.20px;font-size:10.1px;line-height:12px;font-weight:bold;color:#000;transform:scaleX(1.0495);transform-origin:0 0;">$858.7</div>
<div class="t g" style="left:933.39px;top:513.20px;font-size:10.1px;line-height:12px;font-weight:bold;color:#000;transform:scaleX(1.0495);transform-origin:0 0;">$913.1</div>
<div class="t g" style="left:1003.39px;top:513.20px;font-size:10.1px;line-height:12px;font-weight:bold;color:#000;transform:scaleX(1.0495);transform-origin:0 0;">$973.9</div>
<div class="t g" style="left:1064.56px;top:513.20px;font-size:10.1px;line-height:12px;font-weight:bold;color:#000;transform:scaleX(1.0495);transform-origin:0 0;">$1,035.2</div>
<div class="t g" style="left:1134.56px;top:513.20px;font-size:10.1px;line-height:12px;font-weight:bold;color:#000;transform:scaleX(1.0495);transform-origin:0 0;">$1,096.5</div>
<div class="abs" style="left:70px;top:359px;width:1118px;height:1px;background:repeating-linear-gradient(90deg,#000 0,#000 1px,rgba(0,0,0,0) 1px,rgba(0,0,0,0) 2px)"></div>
<div class="abs" style="left:70px;top:404px;width:1118px;height:1px;background:repeating-linear-gradient(90deg,#000 0,#000 1px,rgba(0,0,0,0) 1px,rgba(0,0,0,0) 2px)"></div>
<div class="abs" style="left:69px;top:508.6999999999998px;width:1119px;height:1.2px;background:#000"></div>
<div class="gt" style="left:630px;top:360.24999999999994px"></div>
<div class="gt" style="left:700px;top:360.24999999999994px"></div>
<div class="gt" style="left:770px;top:360.24999999999994px"></div>
<div class="gt" style="left:630px;top:405.0999999999999px"></div>
<div class="gt" style="left:700px;top:405.0999999999999px"></div>
<div class="gt" style="left:770px;top:405.0999999999999px"></div>
<div class="gt" style="left:350px;top:464.89999999999986px"></div>
<div class="gt" style="left:420px;top:464.89999999999986px"></div>
<div class="gt" style="left:490px;top:464.89999999999986px"></div>
<div class="gt" style="left:560px;top:464.89999999999986px"></div>
<div class="gt" style="left:840px;top:464.89999999999986px"></div>
<div class="gt" style="left:910px;top:464.89999999999986px"></div>
<div class="gt" style="left:980px;top:464.89999999999986px"></div>
<div class="gt" style="left:1050px;top:464.89999999999986px"></div>
<div class="gt" style="left:1120px;top:464.89999999999986px"></div>
<div class="abs" style="left:134px;top:330.34999999999997px;width:0;height:0;border-top:5px solid #ff0000;border-left:5px solid transparent"></div>
<div class="t b" style="left:1071.50px;top:501.7px;font-size:20.6px;color:#000;line-height:24px;transform:scaleX(0.9460);transform-origin:0 0;text-shadow:0 0 1.5px #fff,0 0 1.5px #fff">gfxtra.com</div>
<svg class="abs" style="left:0;top:0" width="1188" height="142" viewBox="0 0 1188 142"><path d="M21.90 113.50h5.2l-2.6 2.700z" fill="#777"/><path d="M224.90 113.50h5.2l-2.6 2.700z" fill="#777"/><path d="M267.40 113.50h5.2l-2.6 2.700z" fill="#777"/><path d="M323.90 113.50h5.2l-2.6 2.700z" fill="#777"/><path d="M371.90 113.50h5.2l-2.6 2.700z" fill="#777"/><path d="M519.90 113.50h5.2l-2.6 2.700z" fill="#777"/><path d="M566.40 113.50h5.2l-2.6 2.700z" fill="#777"/><path d="M806.90 113.50h5.2l-2.6 2.700z" fill="#777"/><path d="M1064.90 113.50h5.2l-2.6 2.700z" fill="#777"/><path d="M721.90 113.20h5.2l-2.6 2.700z" fill="#777"/><path d="M772.00 113.20h5.2l-2.6 2.700z" fill="#777"/><path d="M466.00 63.00h5.2l-2.6 2.700z" fill="#777"/><path d="M482.90 85.90h5.2l-2.6 2.700z" fill="#777"/><path d="M467.90 108.90h5.2l-2.6 2.700z" fill="#777"/><path d="M986.90 63.00h5.2l-2.6 2.700z" fill="#777"/><path d="M1022.90 85.90h5.2l-2.6 2.700z" fill="#777"/><path d="M993.80 108.90h5.2l-2.6 2.700z" fill="#777"/></svg>
<svg class="abs" style="left:0;top:0" width="1188" height="142" viewBox="0 0 1188 142" font-family="Liberation Sans, sans-serif">
<!-- ===== QAT ===== -->
<!-- excel logo -->
<g>
<rect x="18.5" y="5" width="7.2" height="11.4" fill="#fff" stroke="#1e7145" stroke-width="1"/>
<path d="M20 7.5h5M20 9.7h5M20 11.9h5M20 14.1h5M22.6 5.5v10.5" stroke="#1e7145" stroke-width=".9" fill="none"/>
<path d="M10 4.6L20 3v15.6L10 17z" fill="#1e7145"/>
<path d="M12.6 7.4l4.6 7.2M17.2 7.4l-4.6 7.2" stroke="#fff" stroke-width="1.7" fill="none"/>
</g>
<!-- save -->
<g>
<path d="M40 4h14v14H41.2L40 16.8z" fill="#7e4aa0"/>
<rect x="42.2" y="5" width="9.8" height="5.2" fill="#fff"/>
<rect x="43.6" y="13" width="7.4" height="4.1" fill="#fff"/>
<rect x="45" y="14.8" width="1.6" height="2.3" fill="#7e4aa0"/>
</g>
<!-- undo -->
<g fill="none" stroke="#3e78b4" stroke-width="1.9" stroke-linecap="round" stroke-linejoin="round">
<path d="M74.2 4.9L70 8.4l5.2 2.6"/>
<path d="M70.6 8.4c5-1.4 10.6-.6 11.6 3.4.6 2.6-1.4 4.4-4.4 4.6"/>
</g>
<path d="M89 9.2h5.4l-2.7 2.9z" fill="#777"/>
<!-- redo -->
<g fill="none" stroke="#b4b4b4" stroke-width="1.9" stroke-linecap="round" stroke-linejoin="round">
<path d="M118.2 4.9l4.2 3.5-5.2 2.6"/>
<path d="M121.8 8.4c-5-1.4-10.6-.6-11.6 3.4-.6 2.6 1.400 4.400 4.400 4.600"/>
</g>
<path d="M129 9.200h5.400l-2.700 2.900z" fill="#c4c4c4"/>
<!-- touch -->
<circle cx="148" cy="7.400" r="3.500" fill="#fff" stroke="#9dbde0" stroke-width="1.700"/>
<path d="M146.900 6.700a1.150 1.150 0 0 1 2.300 0v5.300l3.600.9c1 .3 1.500 1 1.400 2l-.4 3.700h-5.200l-5.200-5c-.6-.8.300-1.700 1.200-1.300l2.300 1.300z" fill="#666"/>
<path d="M160.800 9.200h5.600l-2.800 3z" fill="#333"/>
<!-- customize -->
<rect x="181" y="9" width="5.400" height="1" fill="#777"/>
<path d="M181 11.800h5.400l-2.700 2.900z" fill="#777"/>

<!-- ===== Format group ===== -->
<!-- Styles icon -->
<g>
<rect x="18" y="63.500" width="13.500" height="10.200" fill="#bdd0e6"/>
<path d="M12.500 58.500h24.800v20.800H12.500zM17.700 58.500v20.800M31.700 58.500v20.800M12.500 63.500h24.800M12.500 73.900h24.800" stroke="#8a8a8a" stroke-width="1" fill="none"/>
<path d="M28.500 76.500l10.500-14.500 4.500 2.500-8.500 16.500z" fill="#fff"/>
<path d="M31.300 75.400l8.100-11.300 2.700 1.600-7 12z" fill="#777"/>
<path d="M30.300 75.300l4.900 3.100c-.4 4.100-4.700 7.600-10.700 7.600-2.500 0-4.700-.2-6.100-.6 4.200-1.100 6.200-3.100 7.200-5.400 1-2.400 2.600-4.200 4.700-4.700z" fill="#3e78b4"/>
<path d="M27.600 79.600c.8-1 1.900-1.500 3-1.400-.2 1.200-1 2.300-2.100 2.800z" fill="#fff"/>
</g>
<!-- row1: A + rainbow -->
<text x="57.100" y="65.400" font-size="11.400" fill="#444" text-anchor="middle">A</text>
<g id="rb"><rect x="49" y="68" width="4.100" height="3.800" fill="#ff0000"/><rect x="53.100" y="68" width="4" height="3.800" fill="#ff9400"/><rect x="57.100" y="68" width="4" height="3.800" fill="#35b4e8"/><rect x="61.100" y="68" width="4.100" height="3.800" fill="#6b3fa0"/></g>
<g transform="translate(21.900 0)"><g><rect x="49" y="68" width="4.100" height="3.800" fill="#ff0000"/><rect x="53.100" y="68" width="4" height="3.800" fill="#ff9400"/><rect x="57.100" y="68" width="4" height="3.800" fill="#35b4e8"/><rect x="61.100" y="68" width="4.100" height="3.800" fill="#6b3fa0"/></g></g><g transform="translate(43.900 0)"><g><rect x="49" y="68" width="4.100" height="3.800" fill="#ff0000"/><rect x="53.100" y="68" width="4" height="3.800" fill="#ff9400"/><rect x="57.100" y="68" width="4" height="3.800" fill="#35b4e8"/><rect x="61.100" y="68" width="4.100" height="3.800" fill="#6b3fa0"/></g></g>
<!-- bucket -->
<g id="bucket">
<path d="M78.400 57.600l5.400 5.200-5.300 5.300-5.300-5.300z" fill="#fff" stroke="#555" stroke-width="1"/>
<path d="M77.300 61.200v-3.600a1.100 1.100 0 0 1 2.200 0v2" fill="none" stroke="#555" stroke-width=".9"/>
<path d="M83.600 60.400c2 .6 3.200 2.200 3 4.400-.1.900-.5 1.500-1 1.700.2-1.800-.6-3-2.400-3.700z" fill="#3e78b4"/>
</g>
<!-- pen+bracket -->
<g id="penb">
<path d="M104 57.200H93.700v9h3.400" fill="none" stroke="#777" stroke-width="1"/>
<path d="M106.500 57.600l1.900 1.900-7.400 6.400-2.800 1 .9-2.800z" fill="#3e78b4"/>
<path d="M107 57.200l1.200-.7 1.300 1.400-.8 1.100z" fill="#3e78b4"/>
</g>
<!-- align icons -->
<path d="M116 59.500h13.800M116 62.500h9.800M116 65.500h13.800M116 68.500h9.800" stroke="#666" stroke-width="1"/>
<path d="M138.200 56.500h13.800M138.200 59.500h13.800M138.200 62.500h13.800" stroke="#666" stroke-width="1"/>
<!-- row2 -->
<text x="57.700" y="92" font-size="14" fill="#444" text-anchor="middle">$</text>
<path d="M77.200 83h2.700v2.600c0 1.800-1 3-2.600 3.400v-1c.7-.3 1.100-.9 1.100-1.700h-1.200z" fill="#444"/>
<text x="101.700" y="92.400" font-size="14.500" fill="#444" text-anchor="middle">%</text>
<!-- indent -->
<path d="M117 82.500h14M124.300 85.500h6.700M124.300 88.500h6.700M117 91.500h14" stroke="#666" stroke-width="1"/>
<path d="M115 87h7.200M119.600 84.400l2.800 2.600-2.800 2.600" stroke="#3e78b4" stroke-width="1.400" fill="none"/>
<path d="M137.200 82.500h15M137.200 85.500h8M137.200 88.500h8M137.200 91.500h15" stroke="#666" stroke-width="1"/>
<path d="M153.200 87h-7M148.700 84.400l-2.800 2.600 2.800 2.600" stroke="#3e78b4" stroke-width="1.400" fill="none"/>
<!-- row3 borders -->
<g stroke="#666" stroke-width="1" fill="none">
<path d="M50 103.500h13"/>
<path d="M50.500 105v11M56.500 105v11M62.500 105v11M50 109.500h13M50 115.500h13" stroke-dasharray="1 1"/>
<path d="M72 115.500h13"/>
<path d="M72.500 103v12M78.500 103v12M84.500 103v12M72 103.500h13M72 109.500h13" stroke-dasharray="1 1"/>
<rect x="94.500" y="103.500" width="12" height="12"/>
<path d="M100.500 105v9M96 109.500h9" stroke-dasharray="1 1"/>
</g>
<text x="122.400" y="113.300" font-size="11.500" font-weight="bold" fill="#555" text-anchor="middle">U</text>
<rect x="118" y="115" width="9" height="1" fill="#555"/>
<text x="144.700" y="113.300" font-size="12" fill="#666" text-anchor="middle">Aa</text>
<!-- right col -->
<text x="175.900" y="65.400" font-size="12" fill="#444" text-anchor="middle">A</text>
<rect x="168" y="68" width="16" height="3.900" fill="#0000ff"/>
<path d="M189 63.600h5.200l-2.600 2.700z" fill="#777"/>
<g transform="translate(96.800 23.300)"><g>
<path d="M78.400 57.600l5.400 5.200-5.300 5.300-5.300-5.300z" fill="#fff" stroke="#555" stroke-width="1"/>
<path d="M77.300 61.200v-3.600a1.100 1.100 0 0 1 2.200 0v2" fill="none" stroke="#555" stroke-width=".9"/>
<path d="M83.600 60.400c2 .6 3.200 2.200 3 4.400-.1.900-.5 1.500-1 1.700.2-1.800-.6-3-2.400-3.700z" fill="#3e78b4"/>
</g></g>
<rect x="168" y="91" width="16" height="3.900" fill="#ffff00"/>
<path d="M189 86.400h5.200l-2.600 2.700z" fill="#777"/>
<g transform="translate(74.500 45.300)"><g>
<path d="M104 57.200H93.700v9h3.400" fill="none" stroke="#777" stroke-width="1"/>
<path d="M106.500 57.600l1.900 1.900-7.400 6.400-2.800 1 .9-2.800z" fill="#3e78b4"/>
<path d="M107 57.200l1.200-.7 1.300 1.400-.8 1.100z" fill="#3e78b4"/>
</g></g>
<rect x="168" y="114.200" width="16" height="3.900" fill="#000"/>
<path d="M189 109.400h5.200l-2.600 2.700z" fill="#777"/>

<!-- Cells -->
<g>
<rect x="213.500" y="59.500" width="28.200" height="25.200" fill="#fff"/>
<rect x="227.700" y="59.500" width="7" height="25.200" fill="#c5d6ea"/>
<rect x="213.500" y="64.500" width="28.200" height="5" fill="#c5d6ea"/>
<path d="M220.600 59.500v25.200M227.700 59.500v25.200M234.700 59.500v25.200M213.500 64.500h28.200M213.500 69.600h28.200M213.500 74.600h28.200M213.500 79.600h28.200" stroke="#fff" stroke-width="1" fill="none" opacity=".9"/>
<path d="M220.600 59.500v25.200M227.700 59.500v25.200M234.700 59.500v25.200M213.500 64.500h28.200M213.500 69.600h28.200M213.500 74.600h28.200M213.500 79.600h28.200" stroke="#b8b8b8" stroke-width=".8" fill="none"/>
<rect x="213.500" y="59.500" width="28.200" height="25.200" fill="none" stroke="#858585" stroke-width="1"/>
</g>
<!-- Charts -->
<rect x="258.100" y="67.200" width="6.800" height="17.600" fill="#4a80b9"/>
<rect x="265.900" y="59.200" width="7.100" height="25.600" fill="#edc77f"/>
<rect x="274.300" y="64.100" width="6.900" height="20.700" fill="#7f7f7f"/>
<!-- fx -->
<path d="M331.6 60.6c-.3-1.600-1.500-2.500-3.100-2.300-2.200.3-3.300 2.400-4 5.600l-3.700 17.400c-.6 2.700-1.600 4.300-3.100 4.500-.9.100-1.500-.3-1.600-1" fill="none" stroke="#555" stroke-width="1.700" stroke-linecap="round"/>
<path d="M324.700 63.500l-3.800 18" stroke="#555" stroke-width="2.300" stroke-linecap="round" fill="none"/>
<circle cx="331.300" cy="60.400" r="1.250" fill="#555"/><circle cx="316.400" cy="84.600" r="1.250" fill="#555"/>
<path d="M319.200 69.300h9.600" stroke="#555" stroke-width="1.100"/>
<text x="327.300" y="80.500" font-family="Liberation Serif, serif" font-style="italic" font-size="27" fill="#555" stroke="#555" stroke-width=".3">x</text>
<!-- Paste -->
<g>
<rect x="363.200" y="61.100" width="23.400" height="24.500" rx="1.200" fill="#edc77f"/>
<path d="M368.400 64.800v-3.600h4.200v-1.200a2.600 2.600 0 0 1 5.200 0v1.200h4.200v3.600z" fill="#777"/>
<rect x="374.100" y="59.300" width="2.200" height="1.600" fill="#fff"/>
<path d="M377.700 70.100h8.600l4 4v12.800h-12.600z" fill="#fff" stroke="#8a8a8a" stroke-width="1"/>
<path d="M386.300 70.100v4h4" fill="none" stroke="#8a8a8a" stroke-width="1"/>
</g>

<!-- ===== Model ===== -->
<text x="407.100" y="69.700" font-family="Liberation Serif, serif" font-weight="bold" font-size="18" fill="#2e75b6" text-anchor="middle">Ω</text>
<path d="M401.900 81.300h10.300v11.700h-10.300zM407.050 81.300v11.700M401.900 87.150h10.300" fill="none" stroke="#606060" stroke-width="1.700"/>
<!-- globe -->
<g fill="none" stroke="#4a7ebb" stroke-width=".9">
<circle cx="407.700" cy="109.200" r="7"/>
<ellipse cx="407.700" cy="109.200" rx="3.200" ry="7"/>
<path d="M400.700 109.200h14M402 105.300h11.400M402 113.100h11.400M407.700 102.200v14"/>
</g>
<path d="M398.800 111.200c4.600 2.200 9.400 1.200 12-2.800" fill="none" stroke="#fff" stroke-width="3.600"/>
<path d="M398.800 111.200c4.600 2.200 9.400 1.200 12-2.800" fill="none" stroke="#ea5a1e" stroke-width="2"/>
<path d="M408.200 106l5.200-1.400-1 5.400z" fill="#ea5a1e" stroke="#fff" stroke-width=".4"/>

<!-- ===== Audit ===== -->
<g id="arw" stroke="#4a7ab5" stroke-width="1.800" fill="#4a7ab5">
<path d="M507.900 68.100l8.600-8.400" fill="none"/>
<path d="M519.700 56.500l-1.700 6.100-4.400-4.400z" stroke="none"/>
</g>
<g transform="translate(15.900 .6)"><g stroke="#4a7ab5" stroke-width="1.800" fill="#4a7ab5">
<path d="M507.900 68.100l8.600-8.400" fill="none"/>
<path d="M519.700 56.500l-1.700 6.100-4.400-4.400z" stroke="none"/>
</g></g>
<g transform="translate(1 8.900)"><g stroke="#4a7ab5" stroke-width="1.800" fill="#4a7ab5">
<path d="M507.900 68.100l8.600-8.400" fill="none"/>
<path d="M519.700 56.500l-1.700 6.100-4.400-4.400z" stroke="none"/>
</g></g>
<g transform="translate(6 16.800)"><g stroke="#4a7ab5" stroke-width="1.800" fill="#4a7ab5">
<path d="M507.900 68.100l8.600-8.400" fill="none"/>
<path d="M519.700 56.500l-1.700 6.100-4.400-4.400z" stroke="none"/>
</g></g>
<g transform="translate(16.900 15.500)"><g stroke="#4a7ab5" stroke-width="1.800" fill="#4a7ab5">
<path d="M507.900 68.100l8.600-8.400" fill="none"/>
<path d="M519.700 56.500l-1.700 6.100-4.400-4.400z" stroke="none"/>
</g></g>
<!-- Visualize -->
<g>
<rect x="554.500" y="57.700" width="13" height="12.600" fill="#fff" stroke="#00b7ef" stroke-width="1"/>
<rect x="556.500" y="59.700" width="9" height="8.600" fill="#fff" stroke="#00b7ef" stroke-width="1"/>
<rect x="558.600" y="61.700" width="4.800" height="4.600" fill="#fff" stroke="#00b7ef" stroke-width="1"/>
<!-- TR oranges -->
<rect x="570.200" y="57.200" width="3.700" height="3.700" fill="#ff8c00"/><rect x="575.100" y="57.200" width="3.700" height="3.700" fill="#ff8c00"/><rect x="580.100" y="57.200" width="3.700" height="3.700" fill="#ff9210"/>
<rect x="570.200" y="62" width="3.700" height="3.700" fill="#fde2c8"/><rect x="580.100" y="62" width="3.700" height="3.700" fill="#ffa436"/>
<rect x="570.200" y="66.900" width="3.700" height="3.700" fill="#ffdba6"/><rect x="575.100" y="66.900" width="3.700" height="3.700" fill="#ffc27a"/><rect x="580.100" y="66.900" width="3.700" height="3.700" fill="#ffb25c"/>
<!-- BL -->
<rect x="554.200" y="73.300" width="3.700" height="3.700" fill="#3a9a4a"/><rect x="559.100" y="73.300" width="3.700" height="3.700" fill="#6cb274"/><rect x="564.100" y="73.300" width="3.700" height="3.700" fill="#a2d2a4"/>
<rect x="554.200" y="78.300" width="3.700" height="3.700" fill="#ffc6cc"/><rect x="564.100" y="78.300" width="3.700" height="3.700" fill="#c8eac8"/>
<rect x="554.200" y="83.200" width="3.700" height="3.700" fill="#ff9ca2"/><rect x="559.100" y="83.200" width="3.700" height="3.700" fill="#f06464"/><rect x="564.100" y="83.200" width="3.700" height="3.700" fill="#e84444"/>
<!-- BR -->
<rect x="570.200" y="73.300" width="8.800" height="3.700" fill="#000"/>
<rect x="580.100" y="73.300" width="3.800" height="8.400" fill="#0000ff"/>
<rect x="570.200" y="78.200" width="3.700" height="8.700" fill="#8a2fc8"/>
<rect x="575.100" y="83.100" width="8.800" height="3.800" fill="#008a00"/>
</g>

<!-- ===== Publish ===== -->
<path d="M607.100 88v-7.400h13.500v7.400" fill="none" stroke="#666" stroke-width="1"/>
<path d="M606.300 91.500h5.700M608.500 89.300l-2.300 2.200 2.300 2.200M621.600 91.500h-5.700M619.400 89.300l2.300 2.200-2.300 2.200" fill="none" stroke="#3e78b4" stroke-width="1.100"/>
<path d="M621 103.800h-7.400v12.400h7.400" fill="none" stroke="#666" stroke-width="1"/>
<path d="M608.400 103.400v13.400M606.200 105.700l2.200-2.300 2.200 2.300M606.200 114.600l2.200 2.300 2.200-2.300" fill="none" stroke="#3e78b4" stroke-width="1.100"/>
<!-- people -->
<g>
<circle cx="713.800" cy="63.600" r="5" fill="#6aa38d"/>
<path d="M707.400 79.300v-5.200c0-2.400 1.600-3.900 3.800-3.900h5.400c3.200 0 6.300 1.700 6.300 5v1.600c0 1.500-1 2.500-2.500 2.500z" fill="#6aa38d"/>
<path d="M710.400 70l3.400 4.400 3.400-4.400z" fill="#fff"/>
<circle cx="702" cy="68" r="5.700" fill="#fff"/>
<path d="M692 84.200v-5.400c0-3.600 2.600-5.900 5.400-5.900h9.200c3 0 5.600 2.300 5.600 5.900v5.400z" fill="#fff"/>
<circle cx="702" cy="67.900" r="5" fill="#4a7ebb"/>
<path d="M693 80.300c0-4 2.400-6.400 5.400-6.400h7.400c3 0 5.400 2.400 5.400 6.400 0 1.700-1 2.900-2.800 2.900h-12.600c-1.800 0-2.800-1.200-2.800-2.900z" fill="#4a7ebb"/>
<path d="M698.400 73.700l3.600 5 3.600-5z" fill="#fff"/>
</g>
<!-- envelope -->
<g>
<rect x="745" y="61.100" width="27.900" height="20.600" fill="#e9bf75"/>
<path d="M745 63.200c5 8 9.600 11.200 14.400 11.200s9.200-4.400 13.500-12.200" fill="none" stroke="#fff" stroke-width="1.300"/>
<path d="M751.800 60.500v6.700a1.400 1.400 0 0 1-2.800 0v-8.400a2.300 2.300 0 0 1 4.600 0v9.600" fill="none" stroke="#fff" stroke-width="2.600"/>
<path d="M751.800 60.500v6.700a1.400 1.400 0 0 1-2.800 0v-8.400a2.300 2.300 0 0 1 4.600 0v9.600a2.100 2.100 0 0 1-4.200 0" fill="none" stroke="#666" stroke-width=".9"/>
</g>
<!-- Guides -->
<g>
<rect x="796.500" y="60.500" width="27" height="20" fill="#fff"/>
<path d="M803.500 60.500v20M810.500 60.500v20M817.500 60.500v20M796.500 64.500h27M796.500 68.500h27M796.500 72.500h27M796.500 76.500h27" stroke="#a8a8a8" stroke-width="1" fill="none"/>
<path d="M796.500 60.500h27v20h-27zM796.500 80.500v3.200l.6.600h7.400l2.300-2.600h.4l.300 2 .6.600h6.400l3.300-3.300" fill="none" stroke="#808080" stroke-width="1"/>
<rect x="803.800" y="64.800" width="13.600" height="7.500" fill="#fbd2d4" stroke="#ff0000" stroke-width="1.200"/>
<path d="M810.500 65.400v6.400M804.400 68.500h12.400" stroke="#f2a8ae" stroke-width=".8"/>
</g>
<!-- dialog launcher -->
<path d="M824.500 137v-4.500h4.500" fill="none" stroke="#777" stroke-width="1"/>
<path d="M827 134.800l3.200 3.200M830.700 135.300v3.200h-3.200" fill="none" stroke="#777" stroke-width="1"/>

<!-- ===== Utilities ===== -->
<!-- binoculars -->
<g fill="#4a4a4a">
<path d="M843.200 69.600v-3.600l2-5.600v-2.200c0-.5.300-.8.800-.8h2.400c.5 0 .8.300.8.800v2.200l1 2.600v6.600z"/>
<path d="M858.200 69.600v-3.600l-2-5.600v-2.200c0-.5-.300-.8-.8-.8h-2.400c-.5 0-.8.300-.8.800v2.200l-1 2.600v6.600z"/>
<rect x="849.800" y="61.200" width="1.800" height="3.800"/>
</g>
<path d="M846.700 59.800v8M854.700 59.800v8" stroke="#bdbdbd" stroke-width=".7"/>
<path d="M843.800 66.900h5.800M851.800 66.900h5.800" stroke="#d8d8d8" stroke-width=".7"/>
<!-- folder -->
<path d="M843.700 92.100v-11.600h6.600l1.300 1.600h6.200v10z" fill="#fff" stroke="#666" stroke-width="1"/>
<path d="M850.400 82.100h1.400" stroke="#666" stroke-width=".8"/>
<!-- classic menus -->
<g>
<rect x="843.800" y="102.700" width="14.500" height="14.600" fill="#eef3e8" stroke="#3a8a3a" stroke-width="1.400"/>
<path d="M845 115.600h12.200" stroke="#a9cba9" stroke-width="1.400"/>
<path d="M846.400 106.300l9 7.400M855.400 106.300l-9 7.400" stroke="#1f6b2b" stroke-width="3"/>
<path d="M846.400 106l9 7.400M855.400 106l-9 7.400" stroke="#4aa556" stroke-width="1.700"/>
</g>
<!-- File icon -->
<g>
<path d="M950.700 57.100h8.400l3.800 3.800v10.300h-12.200z" fill="#fff" stroke="#888" stroke-width="1"/>
<path d="M959.100 57.100v3.800h3.800" fill="none" stroke="#888" stroke-width=".9"/>
<path d="M955 62.200h6.500M955 64.400h6.500M955 66.600h6.500M955 68.800h6.500" stroke="#3fa34a" stroke-width="1.100" stroke-dasharray="1.700 .7"/>
<rect x="946.800" y="59.600" width="7" height="10" fill="#1e7145"/>
<path d="M948.700 62.200l3.200 4.800M951.900 62.200l-3.200 4.800" stroke="#fff" stroke-width="1.200"/>
</g>
<!-- comment icon -->
<g fill="none" stroke="#666" stroke-width="1">
<path d="M947.500 90v-9.600h11"/>
<path d="M949.500 91.600v-9.400h11"/>
<path d="M951.500 84.300h11.400v6l-3.400 3.400h-8z" fill="#fff"/>
<path d="M962.900 90.300h-3.400v3.400"/>
</g>
<!-- view monitor -->
<rect x="948" y="104.200" width="14.200" height="9.400" fill="#fff" stroke="#3e78c0" stroke-width="1.700"/>
<path d="M955 114.600l1.400 1.600h-2.800z" fill="#3e78c0"/>
<rect x="952" y="117" width="6" height="1" fill="#3e78c0"/>

<!-- ===== Macabacus ===== -->
<!-- gear -->
<g transform="translate(1067 71.800)" fill="#808080">
<g id="tooth"><path d="M-3.100-9l.9-5.200h4.400l.9 5.200z"/></g>
<g transform="rotate(45)"><g><path d="M-3.100-9l.9-5.200h4.400l.9 5.200z"/></g></g><g transform="rotate(90)"><g><path d="M-3.100-9l.9-5.200h4.400l.9 5.200z"/></g></g><g transform="rotate(135)"><g><path d="M-3.100-9l.9-5.200h4.400l.9 5.200z"/></g></g><g transform="rotate(180)"><g><path d="M-3.100-9l.9-5.200h4.400l.9 5.200z"/></g></g><g transform="rotate(225)"><g><path d="M-3.100-9l.9-5.200h4.400l.9 5.200z"/></g></g><g transform="rotate(270)"><g><path d="M-3.100-9l.9-5.200h4.400l.9 5.200z"/></g></g><g transform="rotate(315)"><g><path d="M-3.100-9l.9-5.200h4.400l.9 5.200z"/></g></g>
<circle r="10.600"/>
<circle r="5" fill="#fff"/>
</g>
<!-- book -->
<g>
<path d="M1105 55.900h13.100v13.600h-13.100c-1 0-1.800.6-1.800 1.400v-13.200c0-1 .8-1.800 1.800-1.800z" fill="#8b54ab"/>
<path d="M1103.200 70.600c0-.8.800-1.400 1.800-1.400h1v-13.300" fill="none" stroke="#7a3f9a" stroke-width=".5"/>
<path d="M1103.400 70.700c.2.900.9 1.500 1.800 1.500h12.900" fill="none" stroke="#8b54ab" stroke-width="1"/>
</g>
<path d="M1105.700 56.200v13.200" stroke="#d9c4e6" stroke-width=".7"/>
<!-- info -->
<circle cx="1111" cy="86.900" r="8" fill="#4a7ebb"/>
<circle cx="1111" cy="82.600" r="1.500" fill="#fff"/>
<rect x="1109.800" y="85.300" width="2.400" height="6.500" fill="#fff"/>
<!-- speaker -->
<path d="M1105.100 108h2.600l3.800-3.400v10.800l-3.800-3.400h-2.600z" fill="#666"/>
<path d="M1113.200 107.300c1.200 1.600 1.200 3.800 0 5.400M1115 105.400c2.200 2.800 2.200 6.400 0 9.200" fill="none" stroke="#4a7ebb" stroke-width=".9"/>
</svg>

</body></html>
